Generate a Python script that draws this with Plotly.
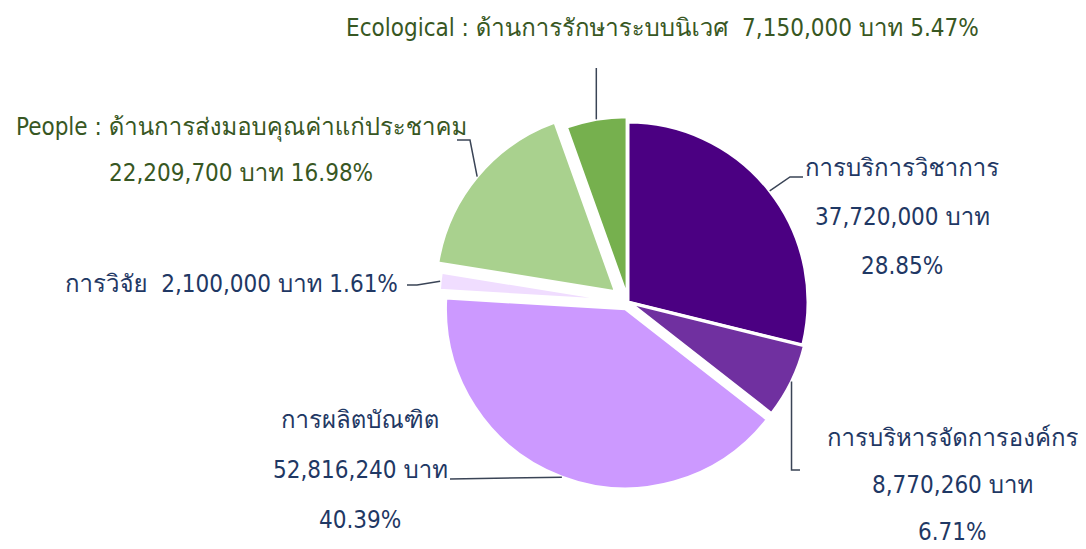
import math
import plotly.graph_objects as go

# ---------------- data ----------------
categories = ["การบริการวิชาการ", "การบริหารจัดการองค์กร", "การผลิตบัณฑิต",
              "การวิจัย", "People : ด้านการส่งมอบคุณค่าแก่ประชาคม",
              "Ecological : ด้านการรักษาระบบนิเวศ"]
amounts = [37720000, 8770260, 52816240, 2100000, 22209700, 7150000]
percents = [28.85, 6.71, 40.39, 1.61, 16.98, 5.47]
colors = ["#4B0082", "#7030A0", "#CC99FF", "#F0DDFF", "#A9D18E", "#76B04E"]
pulls = [0.0, 0.01, 0.04, 0.05, 0.09, 0.03]

OFF = 8  # page body margin offset
W, H = 1086 - OFF, 549 - OFF
NAVY = "#1F3864"
GREEN = "#385723"
FONT = "'DejaVu Sans Condensed', Tahoma, Loma, Garuda, 'Noto Sans Thai Looped', 'Noto Sans Thai', sans-serif"
FS = 24

# pie placement (page pixels)
CX, CY, R = 628, 302, 180
maxpull = max(pulls)
RD = R * (1 + maxpull)


def px2paper(x, y):
    return (x - OFF) / W, 1 - (y - OFF) / H


x0, y1 = px2paper(CX - RD, CY - RD)
x1, y0 = px2paper(CX + RD, CY + RD)

fig = go.Figure(go.Pie(
    labels=categories, values=amounts, sort=False, direction="clockwise",
    rotation=0, pull=pulls, textinfo="none", hoverinfo="label+value+percent",
    marker=dict(colors=colors, line=dict(color="white", width=3)),
    domain=dict(x=[x0, x1], y=[y0, y1]), showlegend=False,
))

# edge point of each slice at its mid-angle (pixels), from data
total = sum(amounts)
edges = []
cum = 0
for v, p in zip(amounts, pulls):
    mid = (cum + v / 2) / total * 2 * math.pi
    cum += v
    rr = R * (1 + p)
    edges.append((CX + rr * math.sin(mid), CY - rr * math.cos(mid)))


def fmt(v):
    return f"{v:,}"


# label texts (lines) built from data
label_lines = [
    [categories[0], f"{fmt(amounts[0])} บาท", f"{percents[0]:.2f}%"],
    [categories[1], f"{fmt(amounts[1])} บาท", f"{percents[1]:.2f}%"],
    [categories[2], f"{fmt(amounts[2])} บาท", f"{percents[2]:.2f}%"],
    [f"{categories[3]}  {fmt(amounts[3])} บาท {percents[3]:.2f}%"],
    [categories[4], f"{fmt(amounts[4])} บาท {percents[4]:.2f}%"],
    [f"{categories[5]}  {fmt(amounts[5])} บาท {percents[5]:.2f}%"],
]
label_colors = [NAVY, NAVY, NAVY, NAVY, GREEN, GREEN]
# label layout: (center x, first-line y, line spacing) in page pixels
label_pos = [(902, 168, 49), (952, 438, 47), (360, 420, 50),
             (231, 284, 0), (241, 127, 46), (662, 28, 0)]

for lines, col, (lx, ly, sp) in zip(label_lines, label_colors, label_pos):
    for k, t in enumerate(lines):
        xp, yp = px2paper(lx, ly + k * sp)
        fig.add_annotation(x=xp, y=yp, xref="paper", yref="paper", text=t,
                           showarrow=False, xanchor="center", yanchor="middle",
                           font=dict(family=FONT, size=FS, color=col))

# leader line routes: elbow and end points (page pixels)
routes = [
    [(790, 177), (803, 177)],
    [(None, 470), (800, 470)],
    [(450, 479)],
    [(417, 285), (407, 285)],
    [(470, 140), (457, 140)],
    [(None, 68)],
]
for (ex, ey), route in zip(edges, routes):
    pts = [(ex, ey)]
    for (x, y) in route:
        pts.append((ex if x is None else x, y))
    path = ""
    for i, (x, y) in enumerate(pts):
        xp, yp = px2paper(x, y)
        path += ("M" if i == 0 else " L") + f"{xp:.5f},{yp:.5f}"
    fig.add_shape(type="path", path=path, xref="paper", yref="paper",
                  line=dict(color="#3A4456", width=1.5))

fig.update_layout(width=W, height=H, margin=dict(l=0, r=0, t=0, b=0),
                  paper_bgcolor="white", plot_bgcolor="white",
                  font=dict(family=FONT))
fig.write_html("out.html")
